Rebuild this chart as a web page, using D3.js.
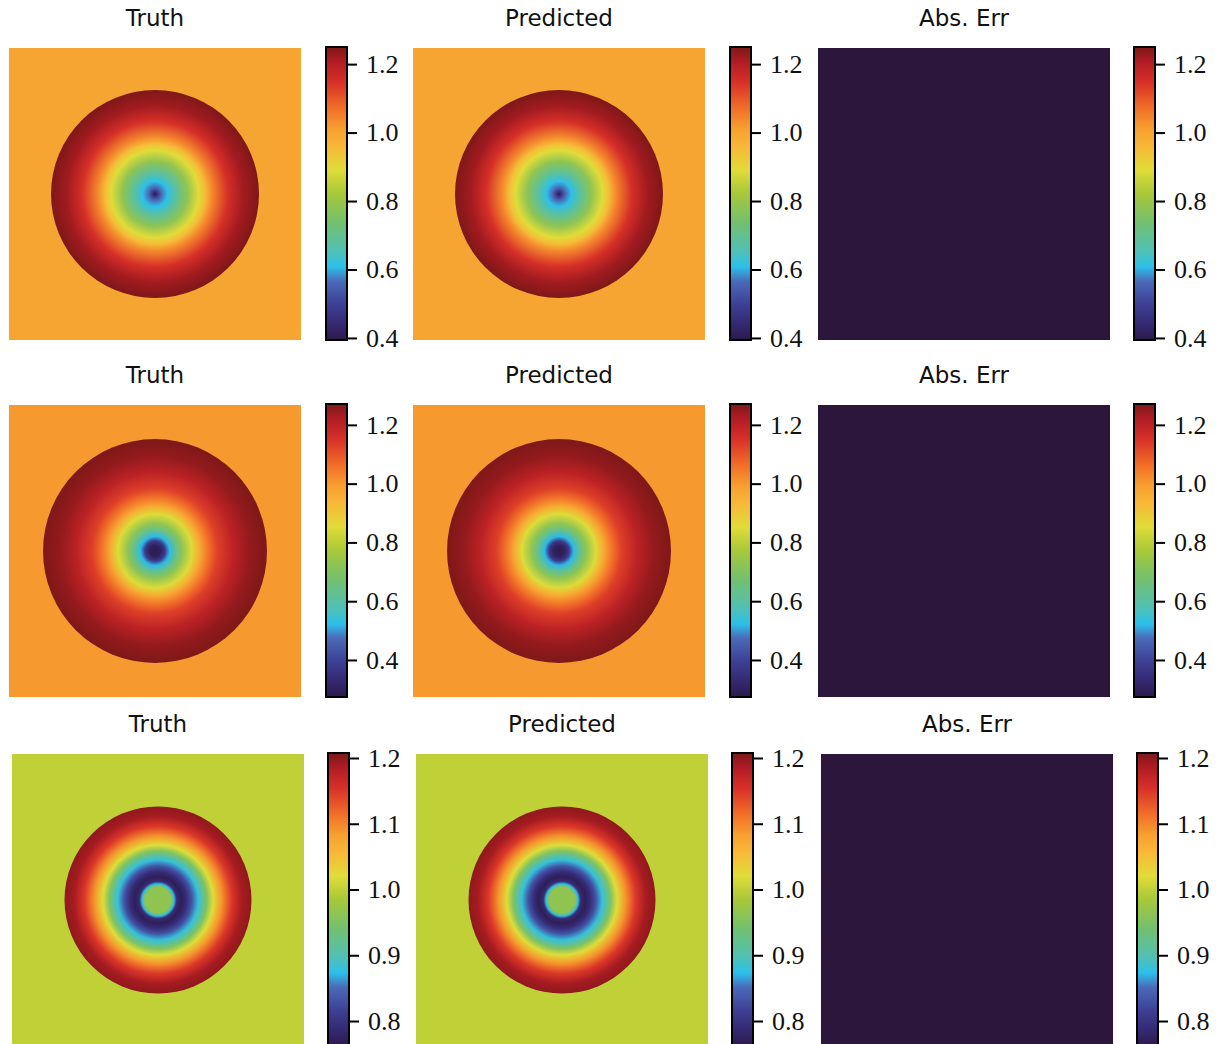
<!DOCTYPE html>
<html>
<head>
<meta charset="utf-8">
<script src="https://cdn.jsdelivr.net/npm/d3@7"></script>
<style>
  body { margin: 0; background: #fff; }
  .title { font-family: "DejaVu Sans", sans-serif; font-size: 23px; fill: #111; }
  .cbar .tick text { font-family: "Liberation Serif", serif; font-size: 26px; fill: #111; }
</style>
</head>
<body>
<div id="chart"></div>
<script>
// rows: titles per column, colorbar ranges, ticks, radial profiles
const titles = ["Truth", "Predicted", "Abs. Err"];
const rowDomains = [[0.394, 1.25], [0.274, 1.271], [0.762, 1.2076]];
const rowTicks = [[0.4, 0.6, 0.8, 1.0, 1.2], [0.4, 0.6, 0.8, 1.0, 1.2], [0.8, 0.9, 1.0, 1.1, 1.2]];
const rowBackground = [1.0, 1.0, 1.0];
// radius as fraction of disk radius
const profileR1 = [0, 0.025, 0.06, 0.12, 0.2, 0.31, 0.42, 0.48, 0.55, 0.7, 0.85, 1];
const profileV1 = [0.40, 0.48, 0.56, 0.61, 0.68, 0.78, 0.89, 0.95, 1.04, 1.15, 1.22, 1.25];
const profileR2 = [0, 0.05, 0.09, 0.13, 0.18, 0.24, 0.33, 0.4, 0.48, 0.56, 0.7, 0.85, 1];
const profileV2 = [0.28, 0.30, 0.38, 0.52, 0.62, 0.72, 0.85, 0.97, 1.06, 1.13, 1.2, 1.25, 1.27];
const profileR3 = [0, 0.14, 0.17, 0.2, 0.25, 0.3, 0.36, 0.43, 0.52, 0.59, 0.68, 0.79, 0.9, 1];
const profileV3 = [0.965, 0.965, 0.88, 0.79, 0.77, 0.79, 0.83, 0.88, 0.95, 1.02, 1.09, 1.15, 1.19, 1.2];
const diskRadius = [104, 112, 93.5];
const errColor = "#2c163b";

// colormap sampled from the colorbar
const cmapStops = [0, 0.06, 0.12, 0.2, 0.25, 0.3, 0.4, 0.5, 0.58, 0.66, 0.72, 0.8, 0.88, 0.95, 1];
const cmapColors = ["#2c1a4c", "#352a74", "#3d3f94", "#4a6ab8", "#2cc0ea", "#4fc0b8", "#72c070",
  "#a8c838", "#e0dc38", "#f8b838", "#f7a030", "#f06828", "#d83028", "#b01c24", "#7e1818"];
const cmap = d3.scaleLinear().domain(cmapStops).range(cmapColors);

const W = 1219, H = 1044;
const imgSize = 292;
const cbW = 21;
const rowLayout = [
  { top: 48, imgX: [9, 413, 818], cbX: [326, 730, 1134], titleY: 26 },
  { top: 405, imgX: [9, 413, 818], cbX: [326, 730, 1134], titleY: 383 },
  { top: 754, imgX: [12, 416, 821], cbX: [328, 732, 1137], titleY: 732 }
];
const profiles = [[profileR1, profileV1], [profileR2, profileV2], [profileR3, profileV3]];

const svg = d3.select("#chart").append("svg")
  .attr("width", W).attr("height", H);
const defs = svg.append("defs");

rowLayout.forEach((L, r) => {
  const [lo, hi] = rowDomains[r];
  const toColor = v => cmap((v - lo) / (hi - lo));
  const [pr, pv] = profiles[r];

  // radial gradient for the disk
  const rg = defs.append("radialGradient").attr("id", "disk" + r)
    .attr("cx", "50%").attr("cy", "50%").attr("r", "50%");
  pr.forEach((f, i) => rg.append("stop").attr("offset", f).attr("stop-color", toColor(pv[i])));

  // colorbar gradient
  const lg = defs.append("linearGradient").attr("id", "cb" + r)
    .attr("x1", 0).attr("y1", 1).attr("x2", 0).attr("y2", 0);
  cmapStops.forEach((s, i) => lg.append("stop").attr("offset", s).attr("stop-color", cmapColors[i]));

  titles.forEach((t, c) => {
    const x0 = L.imgX[c];
    const g = svg.append("g").attr("transform", `translate(${x0},${L.top})`);

    svg.append("text").attr("class", "title")
      .attr("x", x0 + imgSize / 2).attr("y", L.titleY)
      .attr("text-anchor", "middle").text(t);

    if (c < 2) {
      g.append("rect").attr("width", imgSize).attr("height", imgSize)
        .attr("fill", toColor(rowBackground[r]));
      g.append("circle").attr("cx", imgSize / 2).attr("cy", imgSize / 2)
        .attr("r", diskRadius[r]).attr("fill", `url(#disk${r})`);
    } else {
      g.append("rect").attr("width", imgSize).attr("height", imgSize).attr("fill", errColor);
    }

    // colorbar
    const y = d3.scaleLinear().domain([lo, hi]).range([imgSize + 1, 0]);
    const cb = svg.append("g").attr("class", "cbar")
      .attr("transform", `translate(${L.cbX[c]},${L.top - 1})`);
    cb.append("rect").attr("width", cbW).attr("height", imgSize + 1)
      .attr("fill", `url(#cb${r})`).attr("stroke", "#000").attr("stroke-width", 2);
    const ax = cb.append("g").attr("transform", `translate(${cbW},0)`)
      .call(d3.axisRight(y).tickValues(rowTicks[r]).tickSize(10).tickPadding(9)
        .tickFormat(d3.format(".1f")));
    ax.select(".domain").remove();
    ax.selectAll(".tick line").attr("stroke", "#000").attr("stroke-width", 2);
  });
});
</script>
</body>
</html>
